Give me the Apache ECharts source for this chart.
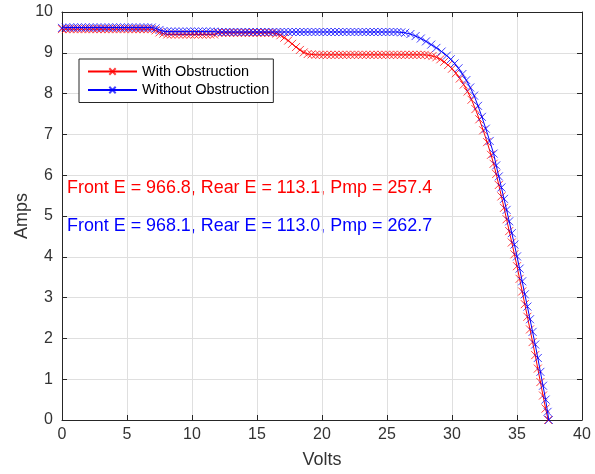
<!DOCTYPE html>
<html>
<head>
<meta charset="utf-8">
<script src="https://cdn.jsdelivr.net/npm/echarts@6/dist/echarts.min.js"></script>
<style>
html,body{margin:0;padding:0;background:#fff;}
#chart{width:595px;height:474px;}
</style>
</head>
<body>
<div id="chart"></div>
<script>
// ---- Data ----
const xTicks = [0, 5, 10, 15, 20, 25, 30, 35, 40];
const yTicks = [0, 1, 2, 3, 4, 5, 6, 7, 8, 9, 10];

const seriesNames = ['With Obstruction', 'Without Obstruction'];

const voltsWith = [
  0,0.3,0.6,0.9,1.2,1.5,1.8,2.1,2.4,2.7,3,3.3,3.6,3.9,4.2,4.5,4.8,5.1,5.4,5.7,6,6.3,6.6,6.9,
  7.2,7.5,7.8,
  8.1,8.4,8.7,9,9.3,9.6,9.9,10.2,10.5,10.8,11.1,11.4,11.7,12,12.3,12.6,12.9,13.2,13.5,13.8,14.1,14.4,14.7,15,15.3,15.6,15.9,16.2,
  16.5,16.8,17.1,17.4,17.7,18,18.3,18.6,18.9,19.2,
  19.5,19.8,20.1,20.4,20.7,21,21.3,21.6,21.9,22.2,22.5,22.8,23.1,23.4,23.7,24,24.3,24.6,24.9,25.2,25.5,25.8,26.1,26.4,26.7,27,27.3,27.6,27.9,28.2,
  28.5,28.8,29.1,29.4,29.7,30,30.3,30.6,30.9,31.2,31.5,31.8,32.1,32.4,32.7,33,33.2,33.4,33.6,33.8,34,34.2,34.4,34.6,34.8,35,35.2,35.4,35.6,35.8,36,36.2,36.4,36.6,36.8,37,37.2,37.4
];
const ampsWith = [
  9.58,9.58,9.58,9.58,9.58,9.58,9.58,9.58,9.58,9.58,9.58,9.58,9.58,9.58,9.58,9.58,9.58,9.58,9.58,9.58,9.58,9.58,9.58,9.58,
  9.55,9.50,9.47,
  9.45,9.45,9.45,9.45,9.45,9.45,9.45,9.45,9.45,9.45,9.45,9.45,9.45,9.49,9.49,9.49,9.49,9.49,9.49,9.49,9.49,9.49,9.49,9.49,9.49,9.49,9.49,9.49,
  9.47,9.43,9.37,9.30,9.22,9.14,9.07,9.01,8.97,8.96,
  8.95,8.95,8.95,8.95,8.95,8.95,8.95,8.95,8.95,8.95,8.95,8.95,8.95,8.95,8.95,8.95,8.95,8.95,8.95,8.95,8.95,8.95,8.95,8.95,8.95,8.95,8.95,8.95,8.95,8.94,
  8.92,8.89,8.84,8.78,8.70,8.61,8.50,8.37,8.22,8.05,7.85,7.62,7.37,7.10,6.81,6.50,6.28,6.03,5.76,5.48,5.20,4.92,4.63,4.35,4.06,3.77,3.46,3.15,2.84,2.53,2.22,1.91,1.59,1.26,0.93,0.60,0.28,0.0
];

const voltsWithout = [
  0,0.3,0.6,0.9,1.2,1.5,1.8,2.1,2.4,2.7,3,3.3,3.6,3.9,4.2,4.5,4.8,5.1,5.4,5.7,6,6.3,6.6,6.9,
  7.2,7.5,7.8,
  8.1,8.4,8.7,9,9.3,9.6,9.9,10.2,10.5,10.8,11.1,11.4,11.7,12,12.3,12.6,12.9,13.2,13.5,13.8,14.1,14.4,14.7,15,15.3,15.6,15.9,16.2,16.5,16.8,17.1,17.4,17.7,18,18.3,18.6,18.9,19.2,19.5,19.8,20.1,20.4,20.7,21,21.3,21.6,21.9,22.2,22.5,22.8,23.1,23.4,23.7,24,24.3,24.6,24.9,25.2,25.5,25.8,
  26.1,26.4,26.8,27.2,27.6,28,28.4,28.8,29.2,29.6,29.9,30.2,30.5,30.8,31.1,31.4,31.7,32,32.3,32.6,32.9,33.2,33.4,33.6,33.8,34,34.2,34.4,34.6,34.8,35,35.2,35.4,35.6,35.8,36,36.2,36.4,36.6,36.8,37,37.2,37.35,37.45
];
const ampsWithout = [
  9.61,9.62,9.62,9.62,9.62,9.62,9.62,9.62,9.62,9.62,9.62,9.62,9.62,9.62,9.62,9.62,9.62,9.62,9.62,9.62,9.62,9.62,9.62,9.62,
  9.60,9.56,9.53,
  9.52,9.52,9.52,9.52,9.52,9.52,9.52,9.52,9.52,9.52,9.52,9.52,9.52,9.51,9.51,9.51,9.51,9.51,9.51,9.51,9.51,9.51,9.51,9.51,9.51,9.51,9.51,9.51,9.51,9.51,9.51,9.51,9.51,9.51,9.51,9.51,9.51,9.51,9.51,9.51,9.51,9.51,9.51,9.51,9.51,9.51,9.51,9.51,9.51,9.51,9.51,9.51,9.51,9.51,9.51,9.51,9.51,9.51,9.51,9.51,
  9.50,9.49,9.46,9.41,9.35,9.28,9.20,9.12,9.03,8.93,8.84,8.74,8.62,8.48,8.33,8.15,7.95,7.70,7.43,7.14,6.84,6.53,6.24,5.97,5.70,5.42,5.15,4.87,4.58,4.30,4.01,3.71,3.40,3.08,2.78,2.47,2.16,1.85,1.52,1.18,0.84,0.50,0.20,0.0
];

const annotations = [
  { text: 'Front E = 966.8, Rear E = 113.1, Pmp = 257.4', color: '#ff0000' },
  { text: 'Front E = 968.1, Rear E = 113.0, Pmp = 262.7', color: '#0000ff' }
];

// ---- Build chart ----
function pairs(xs, ys) { return xs.map((x, i) => [x, ys[i]]); }

const FONT = '"Liberation Sans", Arial, Helvetica, sans-serif';
const AXIS_COLOR = '#262626';
const TEXT_COLOR = '#333333';
const crossPath = 'path://M0,0L10,10M10,0L0,10';

const chart = echarts.init(document.getElementById('chart'), null, { renderer: 'canvas' });

const baseAxis = {
  min: 0,
  axisLine: { show: true, onZero: false, lineStyle: { color: AXIS_COLOR, width: 1 } },
  axisTick: { show: true, inside: true, length: 5, lineStyle: { color: AXIS_COLOR } },
  axisLabel: { color: TEXT_COLOR, fontSize: 16, fontFamily: FONT },
  splitLine: { show: true, lineStyle: { color: '#dfdfdf', width: 1 } }
};

const colors = ['#ff0000', '#0000ff'];
const datasets = [pairs(voltsWith, ampsWith), pairs(voltsWithout, ampsWithout)];

const option = {
  animation: false,
  backgroundColor: '#ffffff',
  grid: { left: 62, right: 13, top: 12, bottom: 51, containLabel: false },
  xAxis: [
    Object.assign({}, baseAxis, {
      type: 'value', max: xTicks[xTicks.length - 1], interval: 5, position: 'bottom',
      name: 'Volts', nameLocation: 'middle', nameGap: 31, nameMoveOverlap: false,
      nameTextStyle: { color: TEXT_COLOR, fontSize: 18, fontFamily: FONT },
      axisLabel: { color: TEXT_COLOR, fontSize: 16, fontFamily: FONT, margin: 7 }
    }),
    Object.assign({}, baseAxis, {
      type: 'value', max: xTicks[xTicks.length - 1], interval: 5, position: 'top',
      axisLabel: { show: false }, splitLine: { show: false }
    })
  ],
  yAxis: [
    Object.assign({}, baseAxis, {
      type: 'value', max: yTicks[yTicks.length - 1], interval: 1, position: 'left',
      name: 'Amps', nameLocation: 'middle', nameGap: 31, nameRotate: 90, nameMoveOverlap: false,
      nameTextStyle: { color: TEXT_COLOR, fontSize: 18, fontFamily: FONT },
      axisLabel: { color: TEXT_COLOR, fontSize: 16, fontFamily: FONT, margin: 9 }
    }),
    Object.assign({}, baseAxis, {
      type: 'value', max: yTicks[yTicks.length - 1], interval: 1, position: 'right',
      axisLabel: { show: false }, splitLine: { show: false }
    })
  ],
  legend: {
    orient: 'vertical',
    left: 79, top: 59,
    padding: [5, 4, 5, 8],
    itemGap: 3.5,
    itemWidth: 49, itemHeight: 8,
    backgroundColor: '#ffffff',
    borderColor: AXIS_COLOR, borderWidth: 1, borderRadius: 0,
    textStyle: { color: '#000000', fontSize: 14.5, fontFamily: FONT },
    data: seriesNames
  },
  series: seriesNames.map((name, i) => ({
    name: name,
    type: 'line',
    xAxisIndex: 0, yAxisIndex: 0,
    data: datasets[i],
    showAllSymbol: true,
    symbol: crossPath,
    symbolSize: 8,
    lineStyle: { color: colors[i], width: 1 },
    itemStyle: { color: 'none', borderColor: colors[i], borderWidth: 1, opacity: 0.75 },
    emphasis: { disabled: true },
    z: 2 + i
  })),
  graphic: annotations.map((a, i) => ({
    type: 'text',
    left: 67,
    top: 179 + i * 38,
    style: { text: a.text, fill: a.color, fontSize: 17.9, fontFamily: FONT }
  }))
};

chart.setOption(option);
</script>
</body>
</html>
